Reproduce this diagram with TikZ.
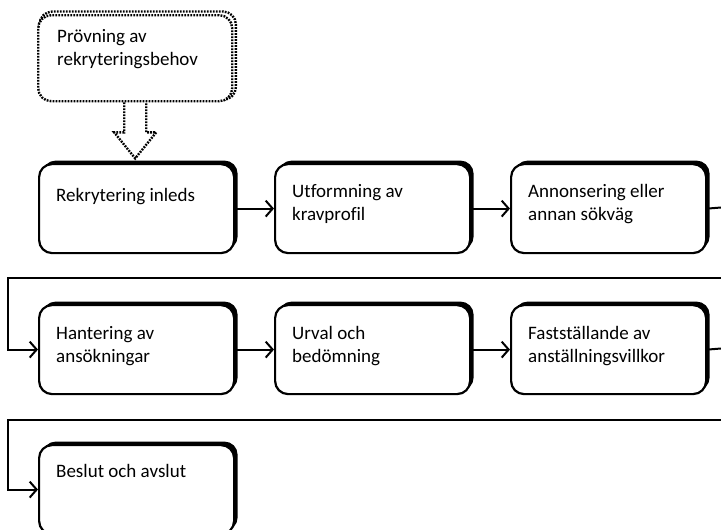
\documentclass[tikz,border=0pt]{standalone}
\usepackage{fontspec}
\setmainfont[Ligatures=NoCommon]{Carlito}
\usetikzlibrary{arrows.meta,shadows,backgrounds}
\newcommand{\twol}[1]{\begin{tabular}[t]{@{}l@{}}#1\end{tabular}}
\begin{document}
\begin{tikzpicture}[x=1pt,y=-1pt,
  box/.style={draw=black, line width=2.2pt, fill=white, rounded corners=13pt,
    minimum width=195pt, minimum height=89pt, anchor=north west, inner sep=0pt,
    drop shadow={shadow xshift=3.5pt, shadow yshift=3.5pt, fill=black, opacity=1}},
  dotbox/.style={draw=black, fill=white, rounded corners=13pt,
    minimum width=194pt, minimum height=86pt, anchor=north west, inner sep=0pt,
    dotline},
  dotline/.style={line width=2.4pt, dash pattern=on 1.8pt off 1.2pt},
  lbl/.style={anchor=base west, inner sep=0pt,
    font=\fontsize{19}{23}\selectfont},
  conn/.style={line width=2pt, -{Straight Barb[length=7pt,width=16pt]}},
  plain/.style={line width=2pt}]
\useasboundingbox (0,0) rectangle (721,530);

% top dotted box
\node[dotbox] (p0) at (37,14) {};
\begin{scope}[on background layer]
  \draw[dotline, rounded corners=13pt] ([shift={(2.5,-2.5)}]p0.south west) rectangle ([shift={(2.5,-2.5)}]p0.north east);
\end{scope}
\node[lbl] (t0) at ([shift={(20,28)}]p0.north west) {\twol{Prövning av\\rekryteringsbehov}};

% dotted block arrow
\coordinate (da) at ([shift={(-11,0)}]p0.south);
\draw[dotline, line join=miter] (da) -- ++(0,30) -- ++(-10,0) -- ++(21,26) -- ++(21,-26) -- ++(-10,0) -- ++(0,-30);

% boxes
\node[box] (b1) at (38,163) {};
\node[box] (b2) at (274,163) {};
\node[box] (b3) at (510,163) {};
\node[box] (b4) at (38,304) {};
\node[box] (b5) at (274,304) {};
\node[box] (b6) at (510,304) {};
\node[box] (b7) at (38,444) {};

\node[lbl] (t1) at ([shift={(18,38)}]b1.north west) {Rekrytering inleds};
\node[lbl] (t2) at ([shift={(18,34)}]b2.north west) {\twol{Utformning av\\kravprofil}};
\node[lbl] (t3) at ([shift={(18,34)}]b3.north west) {\twol{Annonsering eller\\annan sökväg}};
\node[lbl] (t4) at ([shift={(18,35)}]b4.north west) {\twol{Hantering av\\ansökningar}};
\node[lbl] (t5) at ([shift={(18,35)}]b5.north west) {\twol{Urval och\\bedömning}};
\node[lbl] (t6) at ([shift={(18,35)}]b6.north west) {\twol{Fastställande av\\anställningsvillkor}};
\node[lbl] (t7) at ([shift={(18,33)}]b7.north west) {Beslut och avslut};

% connectors
\begin{scope}[on background layer]
\draw[conn] (b1.east) -- (b2.west);
\draw[conn] (b2.east) -- (b3.west);
\draw[conn] (b4.east) -- (b5.west);
\draw[conn] (b5.east) -- (b6.west);
\end{scope}
\coordinate (e1) at (721,207.5);
\coordinate (r1) at (721,278);
\coordinate (l1) at (8,278);
\coordinate (e2) at (721,348.5);
\coordinate (r2) at (721,420);
\coordinate (l2) at (8,420);
\draw[plain] (b3.east) -- (e1);
\draw[conn] (r1) -- (l1) |- (b4.west);
\draw[plain] (b6.east) -- (e2);
\draw[conn] (r2) -- (l2) |- (b7.west);
\end{tikzpicture}
\end{document}
